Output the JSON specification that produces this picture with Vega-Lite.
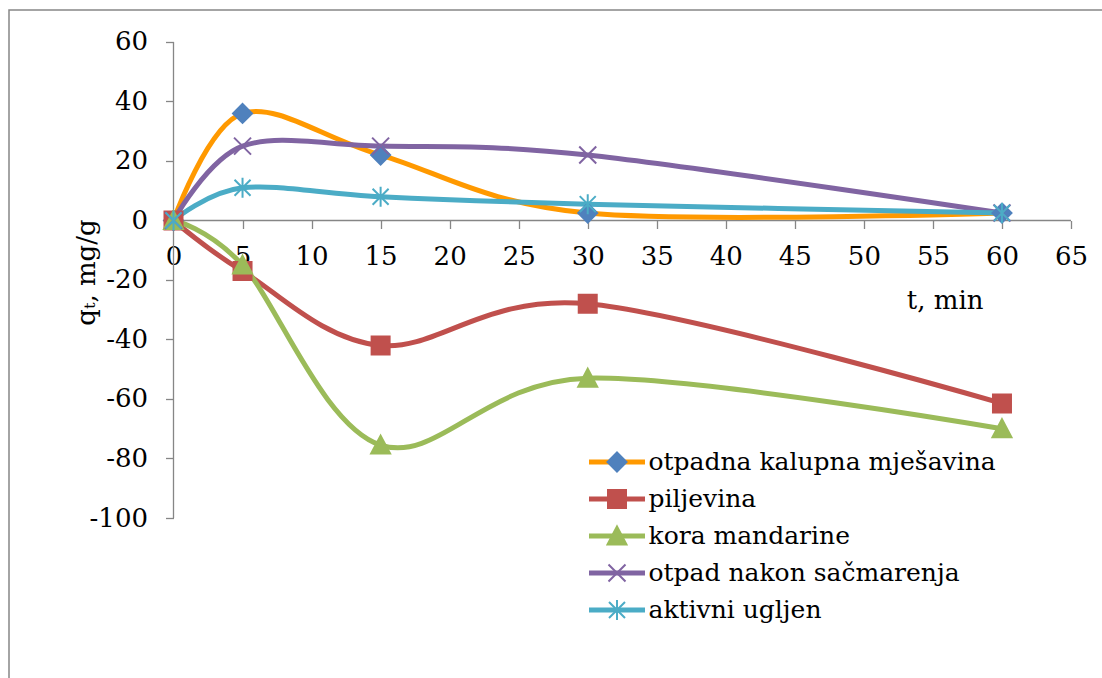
{
  "$schema": "https://vega.github.io/schema/vega-lite/v6.json",
  "width": 1110,
  "height": 680,
  "autosize": {"type": "none"},
  "padding": {"left": 9, "top": 10, "right": 0, "bottom": 0},
  "config": {
    "view": {"stroke": "#868686", "strokeWidth": 1.5},
    "font": "DejaVu Serif",
    "axis": {
      "grid": false, "domain": false, "tickColor": "#868686", "tickWidth": 1.3, "tickSize": 8,
      "labelFont": "DejaVu Serif", "labelFontSize": 26, "labelColor": "#000000",
      "titleFont": "DejaVu Serif", "titleFontSize": 26, "titleFontWeight": "normal", "titleColor": "#000000",
      "labelOverlap": false, "labelFlush": false
    },
    "legend": {"labelFont": "DejaVu Serif", "labelFontSize": 25, "labelColor": "#000000", "labelLimit": 700}
  },
  "data": {
    "values": [
      {"series": "otpadna kalupna mješavina", "t": 0, "q": 0},
      {"series": "otpadna kalupna mješavina", "t": 5, "q": 36},
      {"series": "otpadna kalupna mješavina", "t": 15, "q": 22},
      {"series": "otpadna kalupna mješavina", "t": 30, "q": 2.5},
      {"series": "otpadna kalupna mješavina", "t": 60, "q": 2.5},
      {"series": "piljevina", "t": 0, "q": 0},
      {"series": "piljevina", "t": 5, "q": -17},
      {"series": "piljevina", "t": 15, "q": -42},
      {"series": "piljevina", "t": 30, "q": -28},
      {"series": "piljevina", "t": 60, "q": -61.5},
      {"series": "kora mandarine", "t": 0, "q": 0},
      {"series": "kora mandarine", "t": 5, "q": -15},
      {"series": "kora mandarine", "t": 15, "q": -75.5},
      {"series": "kora mandarine", "t": 30, "q": -53},
      {"series": "kora mandarine", "t": 60, "q": -70},
      {"series": "otpad nakon sačmarenja", "t": 0, "q": 0},
      {"series": "otpad nakon sačmarenja", "t": 5, "q": 25},
      {"series": "otpad nakon sačmarenja", "t": 15, "q": 25},
      {"series": "otpad nakon sačmarenja", "t": 30, "q": 22},
      {"series": "otpad nakon sačmarenja", "t": 60, "q": 2.5},
      {"series": "aktivni ugljen", "t": 0, "q": 0},
      {"series": "aktivni ugljen", "t": 5, "q": 11},
      {"series": "aktivni ugljen", "t": 15, "q": 8},
      {"series": "aktivni ugljen", "t": 30, "q": 5.5},
      {"series": "aktivni ugljen", "t": 60, "q": 2.5}
    ]
  },
  "resolve": {
    "scale": {"color": "independent", "fill": "independent", "stroke": "independent", "shape": "independent"},
    "legend": {"color": "independent", "fill": "independent", "stroke": "independent", "shape": "independent"}
  },
  "layer": [
    {
      "data": {"values": [{}]},
      "mark": {"type": "rule", "color": "#868686", "strokeWidth": 1.3},
      "encoding": {
        "x": {"datum": 0, "type": "quantitative", "scale": {"domain": [-11.913, 68.475], "nice": false, "zero": false}},
        "x2": {"datum": 65},
        "y": {"datum": 0, "type": "quantitative", "scale": {"domain": [-157.815, 70.756], "nice": false, "zero": false}}
      }
    },
    {
      "data": {"values": [{}]},
      "mark": {"type": "rule", "color": "#868686", "strokeWidth": 1.3},
      "encoding": {
        "x": {"datum": 0, "type": "quantitative"},
        "y": {"datum": -100, "type": "quantitative"},
        "y2": {"datum": 60}
      }
    },
    {
      "mark": {"type": "line", "interpolate": "cardinal", "strokeWidth": 5, "strokeCap": "round", "strokeJoin": "round"},
      "encoding": {
        "x": {
          "field": "t", "type": "quantitative",
          "scale": {"domain": [-11.913, 68.475], "nice": false, "zero": false},
          "axis": {
            "orient": "bottom", "offset": -469.5,
            "values": [0, 5, 10, 15, 20, 25, 30, 35, 40, 45, 50, 55, 60, 65],
            "labelExpr": "'' + datum.value",
            "labelPadding": 15,
            "title": "t, min", "titleX": 974, "titleY": 87.5, "titleAlign": "right", "titleBaseline": "alphabetic", "titleAnchor": null
          }
        },
        "y": {
          "field": "q", "type": "quantitative",
          "scale": {"domain": [-157.815, 70.756], "nice": false, "zero": false},
          "axis": {
            "orient": "left", "offset": -164.5,
            "values": [-100, -80, -60, -40, -20, 0, 20, 40, 60],
            "labelExpr": "'' + datum.value",
            "labelPadding": 18,
            "title": "qₜ, mg/g", "titleX": -87, "titleY": 262, "titleAngle": 270, "titleAlign": "center", "titleBaseline": "middle", "titleAnchor": null
          }
        },
        "color": {
          "field": "series", "type": "nominal",
          "scale": {
            "domain": ["otpadna kalupna mješavina", "piljevina", "kora mandarine", "otpad nakon sačmarenja", "aktivni ugljen"],
            "range": ["#FF9900", "#C0504D", "#9BBB59", "#8064A2", "#4BACC6"]
          },
          "legend": {
            "orient": "none", "legendX": 577.5, "legendY": 433.75, "title": null,
            "symbolType": "stroke", "symbolSize": 3136, "symbolStrokeWidth": 5,
            "clipHeight": 36.5, "rowPadding": 0, "padding": 0, "labelOffset": 1
          }
        }
      }
    },
    {
      "mark": {"type": "point", "filled": true, "opacity": 1, "size": 400, "strokeWidth": 2},
      "encoding": {
        "x": {"field": "t", "type": "quantitative"},
        "y": {"field": "q", "type": "quantitative"},
        "fill": {
          "field": "series", "type": "nominal",
          "scale": {
            "domain": ["otpadna kalupna mješavina", "piljevina", "kora mandarine", "otpad nakon sačmarenja", "aktivni ugljen"],
            "range": ["#4F81BD", "#C0504D", "#9BBB59", "#8064A2", "#4BACC6"]
          },
          "legend": {
            "orient": "none", "legendX": 595.5, "legendY": 433.75, "title": null,
            "symbolSize": 400, "symbolStrokeWidth": 2, "symbolOpacity": 1,
            "clipHeight": 36.5, "rowPadding": 0, "padding": 0, "labelExpr": "''"
          }
        },
        "stroke": {
          "field": "series", "type": "nominal",
          "scale": {
            "domain": ["otpadna kalupna mješavina", "piljevina", "kora mandarine", "otpad nakon sačmarenja", "aktivni ugljen"],
            "range": ["#4F81BD", "#C0504D", "#9BBB59", "#8064A2", "#4BACC6"]
          },
          "legend": {
            "orient": "none", "legendX": 595.5, "legendY": 433.75, "title": null,
            "symbolSize": 400, "symbolStrokeWidth": 2, "symbolOpacity": 1,
            "clipHeight": 36.5, "rowPadding": 0, "padding": 0, "labelExpr": "''"
          }
        },
        "shape": {
          "field": "series", "type": "nominal",
          "scale": {
            "domain": ["otpadna kalupna mješavina", "piljevina", "kora mandarine", "otpad nakon sačmarenja", "aktivni ugljen"],
            "range": [
              "M0,-0.95L0.95,0L0,0.95L-0.95,0Z",
              "M-0.9,-0.9L0.9,-0.9L0.9,0.9L-0.9,0.9Z",
              "M0,-0.95L0.95,0.85L-0.95,0.85Z",
              "M-0.85,-0.85L0.85,0.85M-0.85,0.85L0.85,-0.85",
              "M-0.8,-0.8L0.8,0.8M-0.8,0.8L0.8,-0.8M0,-1L0,1"
            ]
          },
          "legend": {
            "orient": "none", "legendX": 595.5, "legendY": 433.75, "title": null,
            "symbolSize": 400, "symbolStrokeWidth": 2, "symbolOpacity": 1,
            "clipHeight": 36.5, "rowPadding": 0, "padding": 0, "labelExpr": "''"
          }
        }
      }
    }
  ]
}
